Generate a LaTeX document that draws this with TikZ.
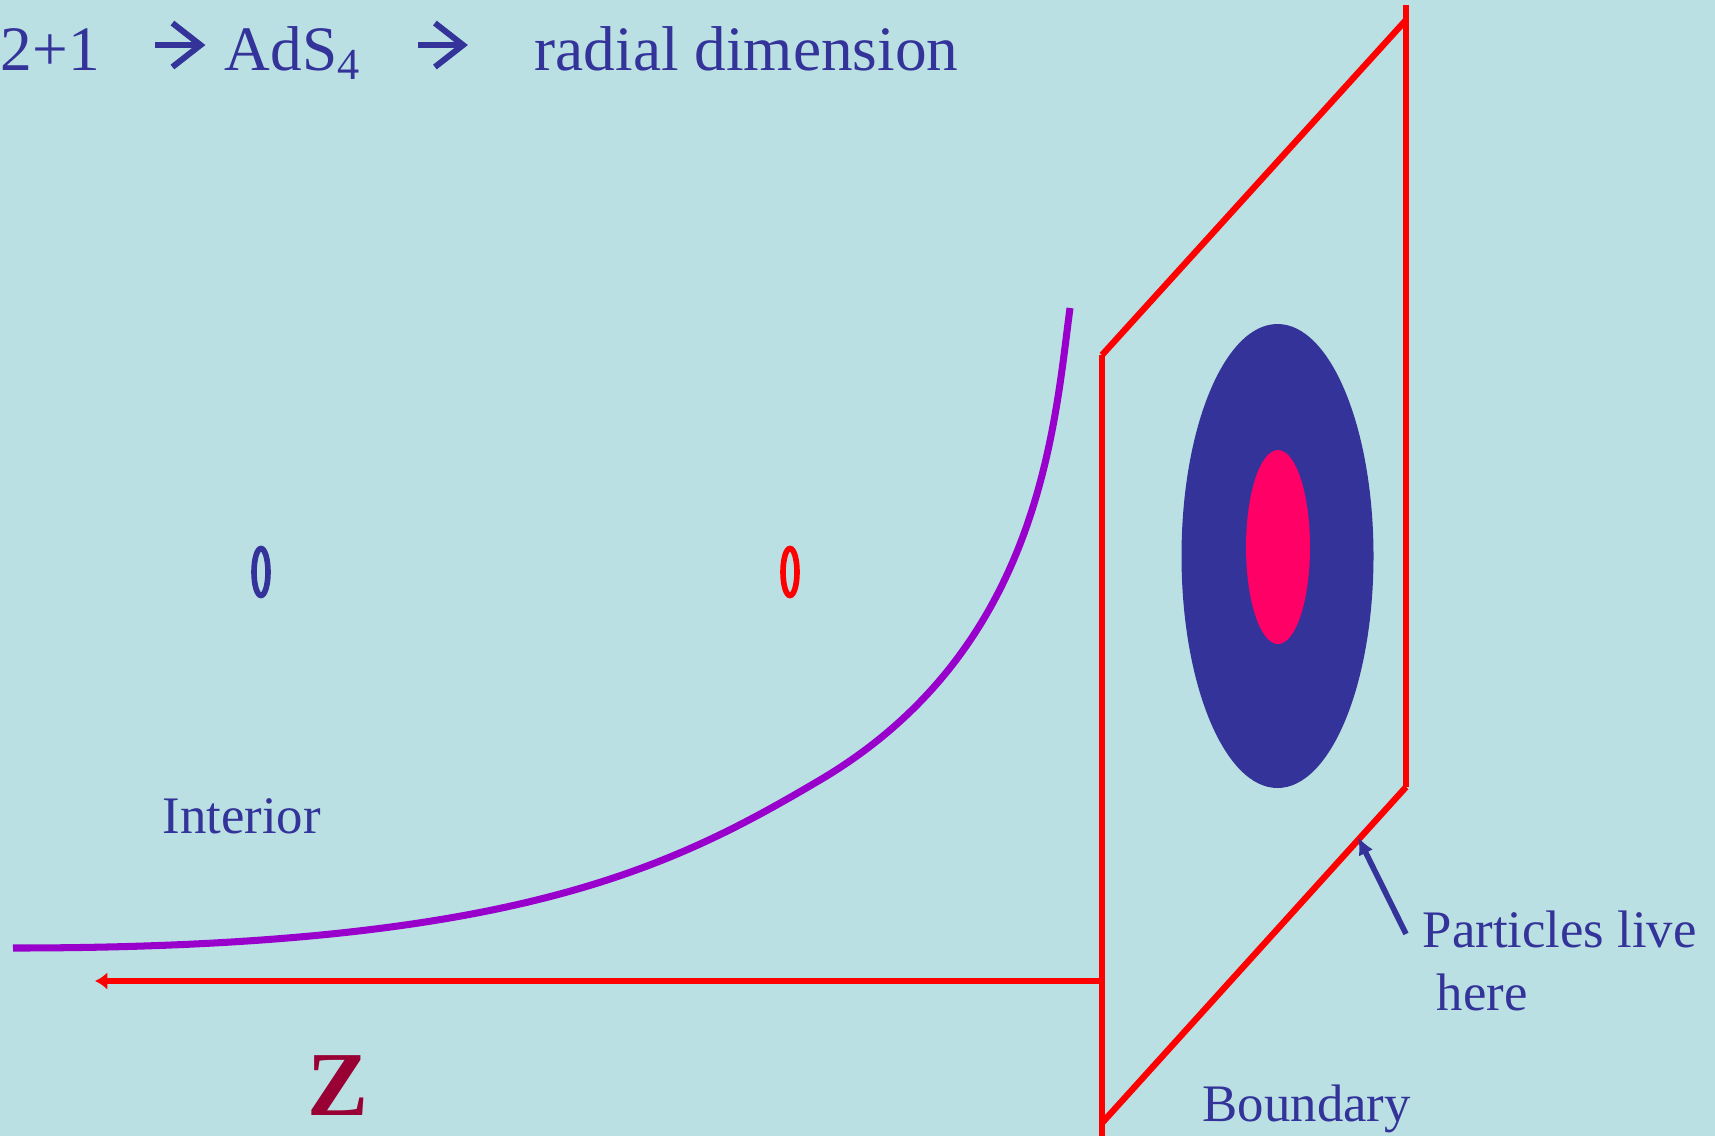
\documentclass[tikz,border=0pt]{standalone}
\usepackage{xcolor}
\usepackage{fontspec}
\setmainfont{Liberation Serif}
\usetikzlibrary{arrows.meta, positioning, calc}
\definecolor{bgcyan}{RGB}{186,224,227}
\definecolor{inkblue}{RGB}{51,51,153}
\definecolor{curvepurple}{RGB}{153,0,204}
\definecolor{hotpink}{RGB}{255,0,102}
\definecolor{zred}{RGB}{153,0,51}

\begin{document}
\begin{tikzpicture}[
    x=0.01cm, y=-0.01cm,
    headtxt/.style={inner sep=0pt, anchor=base west, text=inkblue, font=\fontsize{18}{22}\selectfont},
    txt/.style={inner sep=0pt, anchor=base west, text=inkblue, font=\fontsize{15}{18}\selectfont},
    headarrow/.style={-{Straight Barb[length=8pt, width=12.5pt]}, inkblue, line width=1.7pt},
    rim/.style={red, line width=1.8pt},
    ring/.style={line width=1.6pt},
    pointer/.style={-{Latex[length=5pt, width=4.5pt]}, inkblue, line width=1.6pt},
  ]
    \fill[bgcyan] (0,0) rectangle (1715,1136);
    \useasboundingbox (0,0) rectangle (1715,1136);
    \node[headtxt] (dims) at (0,70) {2+1};
    \node[headtxt] (ads) at (224,70) {AdS\textsubscript{4}};
    \node[headtxt] (radial) at (534,70) {radial dimension};
    \draw[headarrow] ($(dims.east)+(55,-4)$) -- ++(50,0);
    \draw[headarrow] ($(ads.east |- dims.east)+(56,-4)$) -- ++(50,0);
    \draw[ring, inkblue] (261,572) ellipse [x radius=7, y radius=23.5];
    \draw[ring, red] (790,572) ellipse [x radius=7, y radius=23.5];
    \draw[curvepurple, line width=2pt] (13,948) .. controls (513,948) and (670,868.5) .. (820,780)
      .. controls (1040,650) and (1054,428) .. (1070,308);
    \coordinate (ftop) at (1102,355);
    \coordinate (fbot) at (1102,1136);
    \coordinate (btop) at (1406,20);
    \coordinate (bcap) at (1406,5);
    \coordinate (bbot) at (1406,787);
    \coordinate (flow) at (1102,1123);
    \coordinate (zstart) at (1102,981);
    \coordinate (zend) at (95,981);
    \coordinate (tip) at (1358,837);
    \draw[rim] (ftop) -- (btop);
    \draw[rim] (bcap) -- (bbot);
    \draw[rim] (bbot) -- (flow);
    \draw[rim] (ftop) -- (fbot);
    \fill[inkblue] (1277.5,556) ellipse [x radius=96, y radius=232];
    \fill[hotpink] (1278,547) ellipse [x radius=32, y radius=97];
    \draw[rim, line width=1.7pt, -{Latex[length=3.5pt, width=5pt]}] (zstart) -- (zend);
    \node[txt] (interior) at (162,833) {Interior};
    \node[inner sep=0pt, anchor=base west, text=zred, font=\fontsize{26}{30}\selectfont\bfseries] (zlab) at (307,1115) {Z};
    \node[txt] (boundary) at (1202,1121) {Boundary};
    \node[txt] (live) at (1422,947) {Particles live};
    \node[txt] (here) at (1436,1010) {here};
    \draw[pointer] ($(live.west)+(-16,5)$) -- (tip);
  \end{tikzpicture}
\end{document}
